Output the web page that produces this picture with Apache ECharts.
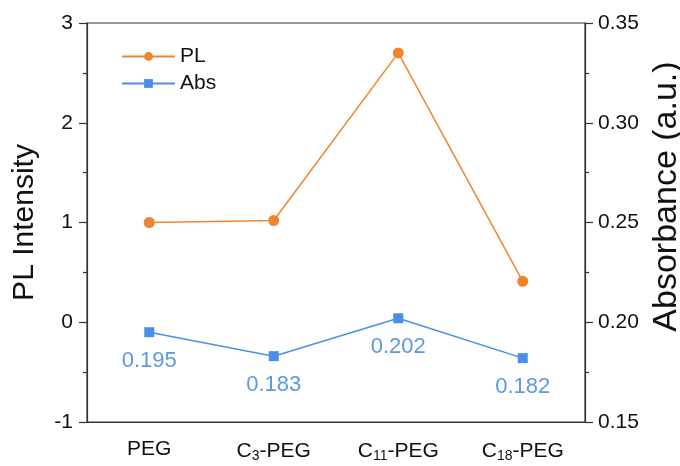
<!DOCTYPE html>
<html>
<head>
<meta charset="utf-8">
<script src="https://cdn.jsdelivr.net/npm/echarts@6/dist/echarts.min.js"></script>
<style>html,body{margin:0;padding:0;background:#fff}#c{width:680px;height:466px}</style>
</head>
<body>
<div id="c"></div>
<script>
const categories = ['PEG', 'C{sub|3}-PEG', 'C{sub|11}-PEG', 'C{sub|18}-PEG'];
const plValues = [1.0, 1.02, 2.70, 0.41];
const absValues = [0.195, 0.183, 0.202, 0.182];
const leftTicks = { min: -1, max: 3, interval: 1 };
const rightTicks = { min: 0.15, max: 0.35, interval: 0.05 };

const FONT = 'Liberation Sans, Arial, sans-serif';
const axisColor = '#333';
const orange = '#EF852F';
const blue = '#4A8FE7';
const labelBlue = '#5B9BE2';

const chart = echarts.init(document.getElementById('c'));
chart.setOption({
  animation: false,
  textStyle: { fontFamily: FONT },
  grid: { left: 87, right: 95, top: 23, bottom: 44, outerBoundsMode: 'none', containLabel: false, show: true, borderColor: axisColor, borderWidth: 1.2, backgroundColor: 'transparent' },
  legend: {
    orient: 'vertical', left: 116, top: 41, itemWidth: 53, itemHeight: 11, itemGap: 6,
    textStyle: { fontSize: 21, color: '#111', fontFamily: FONT },
    data: ['PL', 'Abs']
  },
  xAxis: {
    type: 'category', data: categories, boundaryGap: true,
    axisLine: { onZero: false, lineStyle: { color: axisColor, width: 1.2 } },
    axisTick: { alignWithLabel: true, length: 8, lineStyle: { color: axisColor, width: 1.2 } },
    axisLabel: {
      interval: 0, margin: 17, color: '#111', fontSize: 21, fontFamily: FONT,
      rich: { sub: { fontSize: 14, fontFamily: FONT, color: '#111', verticalAlign: 'bottom', padding: [10, 0, 0, 0] } }
    }
  },
  yAxis: [
    {
      type: 'value', position: 'left', min: leftTicks.min, max: leftTicks.max, interval: leftTicks.interval,
      name: 'PL Intensity', nameLocation: 'middle', nameGap: 47,
      nameTextStyle: { fontSize: 30, color: '#111', fontFamily: FONT },
      axisLine: { show: true, onZero: false, lineStyle: { color: axisColor, width: 1.2 } },
      axisTick: { show: true, length: 8, lineStyle: { color: axisColor, width: 1.2 } },
      minorTick: { show: true, splitNumber: 2, length: 4, lineStyle: { color: axisColor, width: 1.2 } },
      splitLine: { show: false },
      axisLabel: { margin: 14, color: '#111', fontSize: 21, fontFamily: FONT }
    },
    {
      type: 'value', position: 'right', min: rightTicks.min, max: rightTicks.max, interval: rightTicks.interval,
      name: 'Absorbance (a.u.)', nameLocation: 'middle', nameGap: 59, nameRotate: 90,
      nameTextStyle: { fontSize: 34, color: '#111', fontFamily: FONT, padding: [0, 0, 0, 52] },
      axisLine: { show: true, onZero: false, lineStyle: { color: axisColor, width: 1.2 } },
      axisTick: { show: true, length: 8, lineStyle: { color: axisColor, width: 1.2 } },
      minorTick: { show: true, splitNumber: 2, length: 4, lineStyle: { color: axisColor, width: 1.2 } },
      splitLine: { show: false },
      axisLabel: { margin: 13, color: '#111', fontSize: 21, fontFamily: FONT, formatter: v => v.toFixed(2) }
    }
  ],
  series: [
    {
      name: 'PL', type: 'line', yAxisIndex: 0, data: plValues,
      symbol: 'circle', symbolSize: 11,
      itemStyle: { color: orange }, lineStyle: { color: orange, width: 1.5 }
    },
    {
      name: 'Abs', type: 'line', yAxisIndex: 1, data: absValues,
      symbol: 'rect', symbolSize: 10,
      itemStyle: { color: blue }, lineStyle: { color: blue, width: 1.5 },
      label: { show: true, position: 'bottom', distance: 13, color: labelBlue, fontSize: 22, fontFamily: FONT, formatter: p => p.value.toFixed(3) }
    }
  ]
});
</script>
</body>
</html>
